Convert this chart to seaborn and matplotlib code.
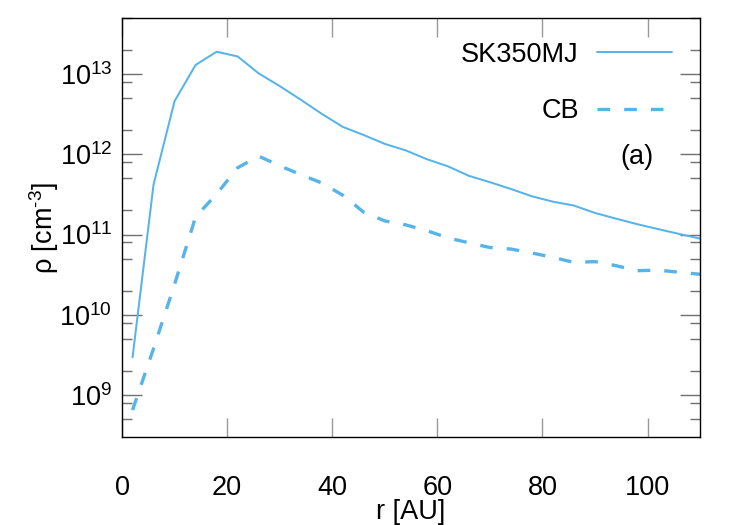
import math

import matplotlib

matplotlib.use("Agg")
import matplotlib.pyplot as plt
import matplotlib.ticker as mticker
import pandas as pd
import seaborn as sns

# radius samples [AU], shared by both models
r_au = [2, 6, 10, 14, 18, 22, 26, 30, 34, 38, 42, 46, 50, 54,
        58, 62, 66, 70, 74, 78, 82, 86, 90, 94, 98, 102, 106, 110]

# density [cm^-3]
rho_sk350mj = [2.95e9, 4.2e11, 4.6e12, 1.3e13, 1.9e13, 1.66e13, 1.02e13,
               7.1e12, 4.8e12, 3.2e12, 2.2e12, 1.74e12, 1.35e12, 1.12e12,
               8.7e11, 7.1e11, 5.4e11, 4.5e11, 3.7e11, 3.0e11, 2.57e11,
               2.3e11, 1.86e11, 1.58e11, 1.35e11, 1.17e11, 1.02e11, 8.9e10]
rho_cb = [6.5e8, 3.8e9, 2.4e10, 1.66e11, 3.2e11, 6.8e11, 9.5e11,
          7.2e11, 5.6e11, 4.4e11, 3.1e11, 1.9e11, 1.48e11, 1.32e11,
          1.12e11, 9.1e10, 7.9e10, 6.9e10, 6.6e10, 5.9e10, 5.2e10,
          4.5e10, 4.6e10, 4.1e10, 3.55e10, 3.6e10, 3.4e10, 3.2e10]

x_ticks = [0, 20, 40, 60, 80, 100]
panel_label = "(a)"

sns.set_style("ticks", rc={"text.color": "black", "axes.labelcolor": "black",
                           "xtick.color": "black", "ytick.color": "black"})
plt.rcParams["font.family"] = ["Liberation Sans", "DejaVu Sans"]
plt.rcParams["mathtext.fontset"] = "custom"
plt.rcParams["mathtext.rm"] = "Liberation Sans"
plt.rcParams["mathtext.it"] = "Liberation Sans"
plt.rcParams["mathtext.default"] = "regular"

color = "#56b4e9"
fs = 19.5

df_sk = pd.DataFrame({"r": r_au, "rho": rho_sk350mj})
df_cb = pd.DataFrame({"r": r_au, "rho": rho_cb})

fig = plt.figure(figsize=(7.5, 5.25), dpi=100)
ax = fig.add_axes([0.1627, 0.1676, 0.7707, 0.7981])

sns.lineplot(data=df_sk, x="r", y="rho", ax=ax, color=color, linewidth=1.45,
             label="SK350MJ")
sns.lineplot(data=df_cb, x="r", y="rho", ax=ax, color=color, linewidth=2.4,
             linestyle=(0, (3.8, 4.2)), label="CB")

ax.set_yscale("log")
ax.set_xlim(0, 110)
ax.set_ylim(3e8, 5e13)

ax.set_xticks(x_ticks)
ax.set_xticklabels([str(t) for t in x_ticks])
ax.yaxis.set_major_locator(mticker.LogLocator(base=10, numticks=20))
ax.yaxis.set_minor_locator(mticker.LogLocator(base=10, subs=(2, 5, 8), numticks=20))
ax.yaxis.set_minor_formatter(mticker.NullFormatter())
ax.yaxis.set_major_formatter(
    mticker.FuncFormatter(lambda v, p: r"$10^{%d}$" % round(math.log10(v)))
)

ax.tick_params(axis="x", which="major", direction="in", top=True, length=13.7,
               width=1.0, color="#999999", labelcolor="black", labelsize=fs, pad=27)
ax.tick_params(axis="y", which="major", direction="in", right=True, length=14.4,
               width=1.0, color="#707070", labelcolor="black", labelsize=fs, pad=7)
ax.tick_params(axis="y", which="minor", direction="in", right=True, length=7.2,
               width=1.0, color="#707070")
for s in ax.spines.values():
    s.set_linewidth(1.0)
    s.set_color("black")

ax.set_xlabel("r [AU]", fontsize=fs, color="black")
ax.set_ylabel("ρ [cm$^{\u2010 3}$]", fontsize=fs, color="black")
ax.xaxis.set_label_coords(0.5, -0.148)
ax.yaxis.set_label_coords(-0.105, 0.5)

ax.legend(loc="upper right", bbox_to_anchor=(0.952, 0.943), frameon=False,
          markerfirst=False, fontsize=fs, handlelength=2.78, handletextpad=0.67,
          labelspacing=1.12, borderpad=0, borderaxespad=0, labelcolor="black")

ax.text(0.891, 0.668, panel_label, transform=ax.transAxes, fontsize=fs,
        ha="center", va="center", color="black")

fig.savefig("out.png", dpi=100)
